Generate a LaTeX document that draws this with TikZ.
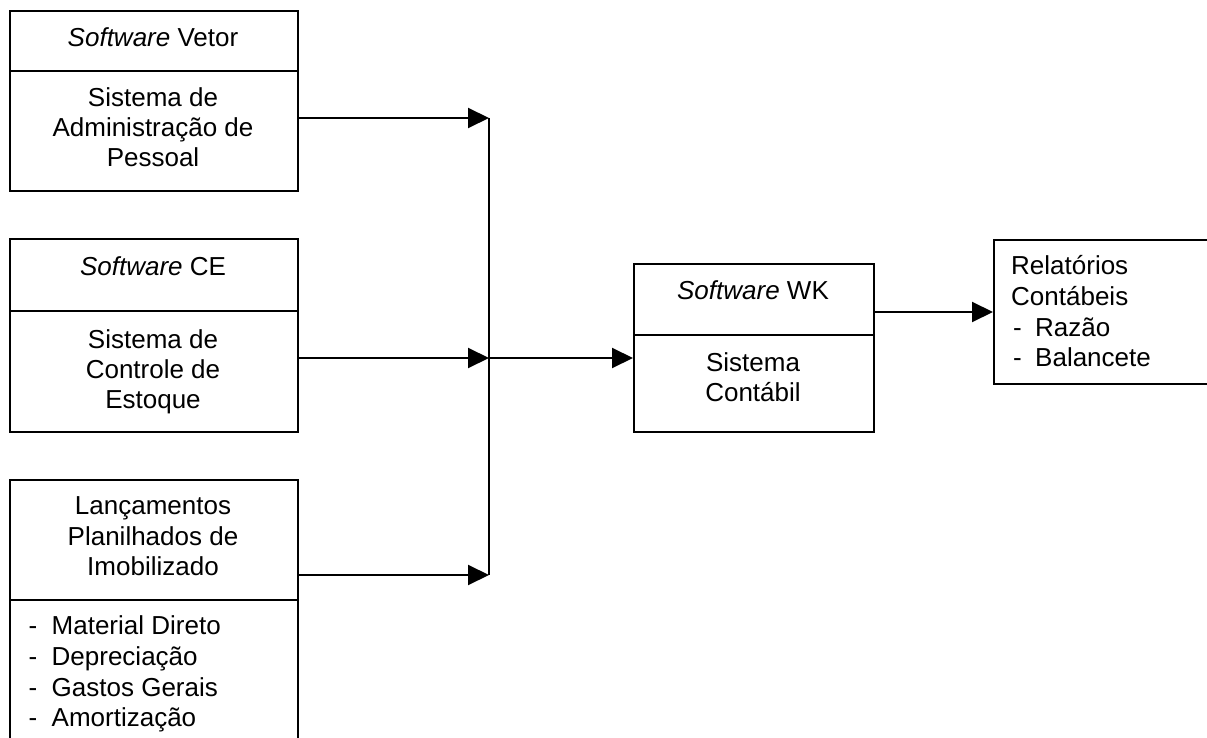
\documentclass[tikz,border=0pt]{standalone}
\usepackage{fontspec}
\setmainfont{Liberation Sans}
\usetikzlibrary{arrows.meta}
\begin{document}
\begin{tikzpicture}[x=1pt,y=-1pt,
  box/.style={draw, line width=2pt, inner sep=0pt, anchor=north west, minimum width=288pt},
  txt/.style={font=\fontsize{26}{30}\selectfont, inner sep=0pt, anchor=base},
  ltxt/.style={font=\fontsize{26}{30}\selectfont, inner sep=0pt, anchor=base west},
  conn/.style={line width=2pt},
  arr/.style={line width=2pt, -{Triangle[length=21pt,width=20pt]}}]
\useasboundingbox (0,0) rectangle (1207,738);
\clip (0,0) rectangle (1207,738);
% boxes
\node[box, minimum height=60pt] (b1t) at (9,10) {};
\node[box, minimum height=120pt] (b1b) at (9,70) {};
\node[box, minimum height=72pt] (b2t) at (9,238) {};
\node[box, minimum height=121pt] (b2b) at (9,310) {};
\node[box, minimum height=120pt] (b3t) at (9,479) {};
\node[box, minimum height=160pt] (b3b) at (9,599) {};
\node[box, minimum width=240pt, minimum height=71pt] (wkt) at (633,263) {};
\node[box, minimum width=240pt, minimum height=97pt] (wkb) at (633,334) {};
\node[box, minimum width=260pt, minimum height=144pt] (rel) at (993,239) {};
% texts
\node[txt] (t1) at (153,47) {\textit{Software} Vetor};
\node[txt] (t1a) at (153,107) {Sistema de};
\node[txt] (t1b) at (153,137) {Administração de};
\node[txt] (t1c) at (153,167) {Pessoal};
\node[txt] (t2) at (153,275) {\textit{Software} CE};
\node[txt] (t2a) at (153,348) {Sistema de};
\node[txt] (t2b) at (153,378) {Controle de};
\node[txt] (t2c) at (153,408) {Estoque};
\node[txt] (t3a) at (153,514) {Lançamentos};
\node[txt] (t3b) at (153,545) {Planilhados de};
\node[txt] (t3c) at (153,575) {Imobilizado};
\node[ltxt] (l1) at (28.5,634) {\makebox[23pt][l]{-}Material Direto};
\node[ltxt] (l2) at (28.5,665) {\makebox[23pt][l]{-}Depreciação};
\node[ltxt] (l3) at (28.5,696) {\makebox[23pt][l]{-}Gastos Gerais};
\node[ltxt] (l4) at (28.5,726) {\makebox[23pt][l]{-}Amortização};
\node[txt] (tw) at (753,299) {\textit{Software} WK};
\node[txt] (twa) at (753,371) {Sistema};
\node[txt] (twb) at (753,401) {Contábil};
\node[ltxt] (r1) at (1011,274) {Relatórios};
\node[ltxt] (r2) at (1011,305) {Contábeis};
\node[ltxt] (r3) at (1013,336) {\makebox[22pt][l]{-}Razão};
\node[ltxt] (r4) at (1013,366) {\makebox[22pt][l]{-}Balancete};
% connectors
\coordinate (j1) at (489,118);
\coordinate (j2) at (489,358);
\coordinate (j3) at (489,575);
\draw[conn] (j1) -- (j3);
\draw[arr] (b1b.east |- j1) -- (j1);
\draw[arr] (b2b.east |- j2) -- (j2);
\draw[arr] (b3t.east |- j3) -- (j3);
\draw[arr] (j2) -- (wkb.west |- j2);
\draw[arr] (wkt.east |- rel.west) -- (rel.west);
\end{tikzpicture}
\end{document}
